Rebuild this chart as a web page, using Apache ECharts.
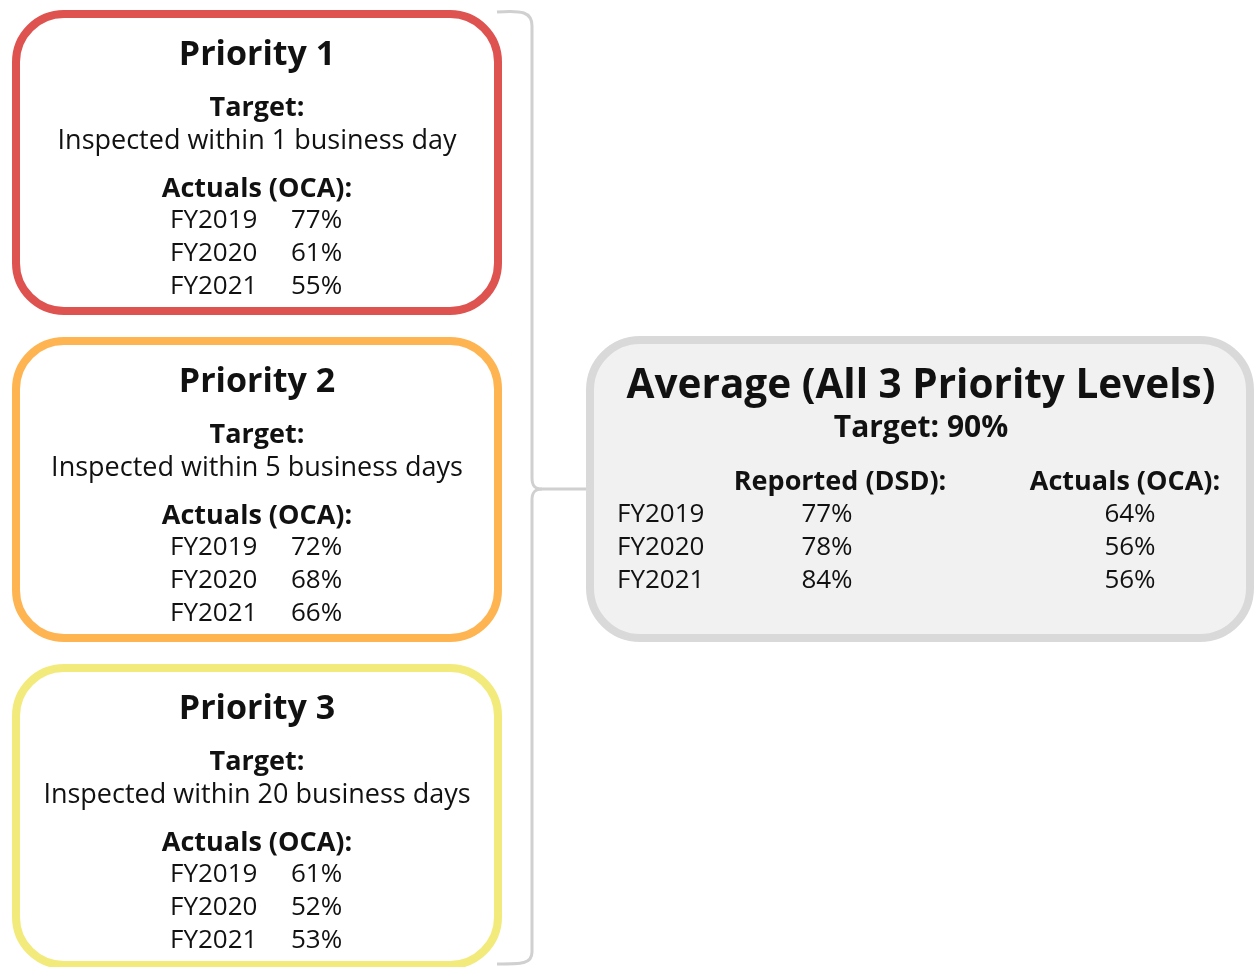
<!DOCTYPE html>
<html>
<head>
<meta charset="utf-8">
<script src="https://cdn.jsdelivr.net/npm/echarts@6/dist/echarts.min.js"></script>
<style>
  html,body{margin:0;padding:0;background:#fff;}
  #chart{width:1254px;height:967px;}
</style>
</head>
<body>
<div id="chart"></div>
<script>
const years = ['FY2019', 'FY2020', 'FY2021'];
const priorityTitles = ['Priority 1', 'Priority 2', 'Priority 3'];
const priorityTargets = [
  'Inspected within 1 business day',
  'Inspected within 5 business days',
  'Inspected within 20 business days'
];
const p1Actuals = ['77%', '61%', '55%'];
const p2Actuals = ['72%', '68%', '66%'];
const p3Actuals = ['61%', '52%', '53%'];
const avgTitle = 'Average (All 3 Priority Levels)';
const avgTarget = 'Target: 90%';
const avgReported = ['77%', '78%', '84%'];
const avgActuals = ['64%', '56%', '56%'];

const priorityActuals = [p1Actuals, p2Actuals, p3Actuals];
const boxColors = ['#de5350', '#ffb452', '#f3ea7c'];
const FONT = '"Open Sans", sans-serif';
const INK = '#111';
const BRACKET = '#d0d0d0';

const chart = echarts.init(document.getElementById('chart'), null, { renderer: 'canvas' });

function txt(text, x, y, size, bold, align) {
  return {
    type: 'text',
    style: {
      text: text, x: x, y: y,
      font: (bold ? 'bold ' : '') + size + 'px ' + FONT,
      fill: INK, align: align || 'center', verticalAlign: 'middle'
    },
    z: 10
  };
}
function seg(x1, y1, x2, y2) {
  return { type: 'line', shape: { x1: x1, y1: y1, x2: x2, y2: y2 },
    style: { stroke: BRACKET, lineWidth: 3 } };
}
function curve(x1, y1, c1x, c1y, c2x, c2y, x2, y2) {
  return { type: 'bezierCurve',
    shape: { x1: x1, y1: y1, cpx1: c1x, cpy1: c1y, cpx2: c2x, cpy2: c2y, x2: x2, y2: y2 },
    style: { fill: null, stroke: BRACKET, lineWidth: 3 } };
}

const elements = [];

// three priority boxes
priorityTitles.forEach(function (title, i) {
  const top = 14 + i * 327;
  const cx = 257;
  elements.push({
    type: 'rect',
    shape: { x: 16, y: top, width: 482, height: 297, r: 48 },
    style: { fill: '#fff', stroke: boxColors[i], lineWidth: 8 }
  });
  elements.push(txt(title, cx, top + 41, 34, true));
  elements.push(txt('Target:', cx, top + 94, 27, true));
  elements.push(txt(priorityTargets[i], cx, top + 127, 27, false));
  elements.push(txt('Actuals (OCA):', cx, top + 175, 27, true));
  years.forEach(function (y, j) {
    const ry = top + 207 + j * 33;
    elements.push(txt(y, 170, ry, 26, false, 'left'));
    elements.push(txt(priorityActuals[i][j], 291, ry, 26, false, 'left'));
  });
});

// bracket joining the three boxes to the average
elements.push(curve(497, 12, 522, 10, 532, 12, 532, 26));
elements.push(seg(532, 26, 532, 478));
elements.push(curve(532, 478, 532, 486, 535, 489, 542, 489));
elements.push(seg(542, 489, 590, 489));
elements.push(curve(542, 489, 535, 489, 532, 492, 532, 500));
elements.push(seg(532, 500, 532, 952));
elements.push(curve(532, 952, 532, 964, 522, 964, 497, 964));

// average box
elements.push({
  type: 'rect',
  shape: { x: 590, y: 340, width: 660, height: 298, r: 50 },
  style: { fill: '#f1f1f1', stroke: '#d9d9d9', lineWidth: 8 },
  z: 5
});
elements.push(txt(avgTitle, 921, 386, 40.5, true));
elements.push(txt(avgTarget, 921, 428, 30, true));
elements.push(txt('Reported (DSD):', 840, 482, 27, true));
elements.push(txt('Actuals (OCA):', 1125, 482, 27, true));
years.forEach(function (y, j) {
  const ry = 515 + j * 33;
  elements.push(txt(y, 617, ry, 26, false, 'left'));
  elements.push(txt(avgReported[j], 827, ry, 26, false));
  elements.push(txt(avgActuals[j], 1130, ry, 26, false));
});

chart.setOption({
  backgroundColor: '#fff',
  animation: false,
  graphic: { elements: elements }
});
</script>
</body>
</html>
